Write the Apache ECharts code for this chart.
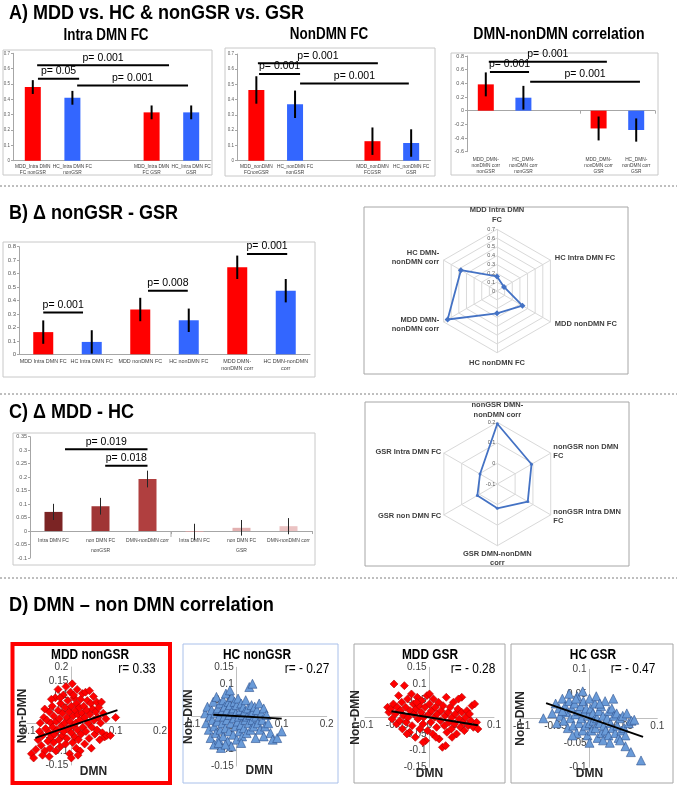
<!DOCTYPE html>
<html><head><meta charset="utf-8">
<script src="https://cdn.jsdelivr.net/npm/echarts@6/dist/echarts.min.js"></script>
<style>html,body{margin:0;padding:0;background:#fff}#c{width:677px;height:786px}</style>
</head><body><div id="c"></div>
<script>
// ================= DATA =================
// Panel A
const aIntraCats = ['MDD_Intra DMN\nFC nonGSR','HC_Intra DMN FC\nnonGSR','','MDD_Intra DMN\nFC GSR','HC_Intra DMN FC\nGSR'];
const aIntraVals = [0.48, 0.41, null, 0.315, 0.315];
const aIntraErr  = [0.045, 0.045, null, 0.045, 0.045];
const aIntraSig  = [[0.11, 3.44, 0.622], [0.13, 1.17, 0.534], [1.12, 3.92, 0.49]];
const aIntraSigText = ['p= 0.001', 'p= 0.05', 'p= 0.001'];

const aNonCats = ['MDD_nonDMN\nFCnonGSR','HC_nonDMN FC\nnonGSR','','MDD_nonDMN\nFCGSR','HC_nonDMN FC\nGSR'];
const aNonVals = [0.464, 0.37, null, 0.128, 0.116];
const aNonErr  = [0.09, 0.09, null, 0.09, 0.09];
const aNonSig  = [[0.04, 3.14, 0.639], [0.07, 1.13, 0.569], [1.13, 3.94, 0.507]];
const aNonSigText = ['p= 0.001', 'p= 0.001', 'p= 0.001'];

const aCorrCats = ['MDD_DMN-\nnonDMN corr\nnonGSR','HC_DMN-\nnonDMN corr\nnonGSR','','MDD_DMN-\nnonDMN corr\nGSR','HC_DMN-\nnonDMN corr\nGSR'];
const aCorrVals = [0.385, 0.19, null, -0.26, -0.283];
const aCorrErr  = [0.175, 0.173, null, 0.175, 0.17];
const aCorrSig  = [[0.08, 3.22, 0.717], [0.11, 1.15, 0.566], [1.18, 4.1, 0.424]];
const aCorrSigText = ['p= 0.001', 'p= 0.001', 'p= 0.001'];

// Panel B
const bCats = ['MDD Intra DMN FC','HC Intra DMN FC','MDD nonDMN FC','HC nonDMN FC','MDD DMN-\nnonDMN corr','HC DMN-nonDMN\ncorr'];
const bVals = [0.165, 0.092, 0.333, 0.253, 0.647, 0.473];
const bErr  = [0.087, 0.087, 0.087, 0.087, 0.087, 0.087];
const bSig  = [[0.0, 0.82, 0.31], [2.16, 2.98, 0.473], [4.2, 5.03, 0.745]];
const bSigText = ['p= 0.001', 'p= 0.008', 'p= 0.001'];
const bRadarNames = ['MDD Intra DMN\nFC','HC Intra DMN FC','MDD nonDMN FC','HC nonDMN FC','MDD DMN-\nnonDMN corr','HC DMN-\nnonDMN corr'];
const bRadarTicks = [0, 0.7];

// Panel C
const cCats   = ['Intra DMN FC','non DMN FC','DMN-nonDMN corr','Intra DMN FC','non DMN FC','DMN-nonDMN corr'];
const cGroups = ['nonGSR','GSR'];
const cVals   = [0.071, 0.092, 0.193, -0.003, 0.012, 0.018];
const cErr    = [0.03, 0.031, 0.031, 0.03, 0.029, 0.03];
const cSig    = [[0.245, 2.0, 0.303], [1.1, 2.0, 0.242]];
const cSigText = ['p= 0.019', 'p= 0.018'];
// radar, clockwise from top (values taken from cVals by index)
const cRadarNames = ['nonGSR DMN-\nnonDMN corr','nonGSR non DMN\nFC','nonGSR Intra DMN\nFC','GSR DMN-nonDMN\ncorr','GSR non DMN FC','GSR Intra DMN FC'];
const cRadarIdx   = [2, 1, 0, 5, 4, 3];
const cRadarTicks = [-0.1, 0.2];

// Panel D scatter data [DMN, Non-DMN]
const mddNonGsrPts = [[-0.09,-0.11],[-0.085,-0.125],[-0.08,-0.095],[-0.075,-0.06],[-0.072,-0.03],[-0.07,0.0],[-0.068,-0.08],[-0.065,-0.045],[-0.062,0.02],[-0.06,-0.1],[-0.058,-0.02],[-0.055,0.01],[-0.053,-0.065],[-0.05,0.04],[-0.05,-0.035],[-0.048,-0.09],[-0.046,0.0],[-0.045,-0.05],[-0.043,0.06],[-0.042,-0.015],[-0.04,-0.07],[-0.04,0.025],[-0.038,-0.04],[-0.036,0.09],[-0.035,-0.1],[-0.034,0.005],[-0.032,-0.025],[-0.03,0.12],[-0.03,0.045],[-0.028,-0.06],[-0.027,0.015],[-0.025,-0.085],[-0.024,0.07],[-0.022,-0.01],[-0.02,0.035],[-0.02,-0.045],[-0.018,0.1],[-0.017,-0.03],[-0.015,0.0],[-0.014,0.055],[-0.013,-0.075],[-0.012,0.13],[-0.01,0.02],[-0.01,-0.055],[-0.008,0.08],[-0.007,-0.02],[-0.005,0.04],[-0.004,-0.11],[-0.003,0.005],[-0.002,0.11],[0.0,-0.035],[0.0,0.06],[0.002,0.14],[0.003,-0.07],[0.004,0.025],[0.005,-0.01],[0.006,0.09],[0.008,-0.05],[0.009,0.045],[0.01,0.0],[0.011,-0.09],[0.012,0.07],[0.013,0.12],[0.014,-0.025],[0.015,0.03],[0.016,-0.06],[0.018,0.055],[0.019,0.01],[0.02,-0.1],[0.021,0.085],[0.022,-0.04],[0.024,0.035],[0.025,0.105],[0.026,-0.015],[0.028,0.06],[0.03,-0.075],[0.03,0.02],[0.032,0.11],[0.033,-0.03],[0.035,0.045],[0.036,0.08],[0.038,0.0],[0.04,-0.055],[0.041,0.115],[0.042,0.03],[0.044,0.07],[0.045,-0.09],[0.046,-0.015],[0.048,0.05],[0.05,0.095],[0.051,0.01],[0.053,-0.04],[0.055,0.04],[0.057,0.075],[0.058,-0.025],[0.06,0.02],[0.062,0.055],[0.064,-0.06],[0.066,0.0],[0.068,0.075],[0.07,-0.035],[0.072,0.035],[0.075,-0.05],[0.078,0.015],[0.08,-0.045],[0.088,-0.045],[0.1,0.02],[-0.05,-0.12],[-0.06,0.05],[-0.045,0.085],[0.0,-0.125],[0.015,-0.115],[-0.025,0.09],[0.005,0.1],[-0.065,-0.115]];
const mddNonGsrTrend = [[-0.081,-0.053],[0.104,0.046]];

const hcNonGsrPts = [[-0.07,0.01],[-0.068,-0.02],[-0.065,0.03],[-0.062,-0.04],[-0.06,0.0],[-0.058,-0.065],[-0.056,0.02],[-0.054,-0.01],[-0.052,0.045],[-0.05,-0.03],[-0.05,-0.085],[-0.048,0.01],[-0.046,-0.05],[-0.045,0.06],[-0.043,-0.015],[-0.042,0.025],[-0.04,-0.07],[-0.039,0.0],[-0.037,0.04],[-0.036,-0.04],[-0.035,-0.095],[-0.033,0.015],[-0.032,-0.02],[-0.03,0.05],[-0.03,-0.06],[-0.028,0.0],[-0.027,0.03],[-0.025,-0.035],[-0.024,0.07],[-0.022,-0.01],[-0.021,0.02],[-0.02,-0.075],[-0.018,0.045],[-0.017,-0.045],[-0.016,0.005],[-0.015,0.035],[-0.013,-0.02],[-0.012,-0.09],[-0.011,0.06],[-0.01,0.015],[-0.008,-0.055],[-0.007,0.025],[-0.006,-0.005],[-0.005,0.045],[-0.003,-0.03],[-0.002,0.01],[0.0,-0.07],[0.0,0.035],[0.002,-0.015],[0.003,0.055],[0.005,0.0],[0.006,-0.045],[0.008,0.02],[0.009,-0.025],[0.01,0.04],[0.012,-0.06],[0.013,0.005],[0.015,0.03],[0.016,-0.035],[0.018,0.015],[0.019,-0.01],[0.02,0.05],[0.022,-0.05],[0.023,0.0],[0.025,0.025],[0.027,-0.02],[0.028,0.09],[0.03,0.005],[0.031,-0.04],[0.033,0.035],[0.035,-0.01],[0.036,0.015],[0.038,-0.03],[0.04,0.03],[0.042,-0.065],[0.043,0.0],[0.045,0.02],[0.047,-0.02],[0.05,0.04],[0.052,-0.04],[0.055,0.01],[0.057,-0.01],[0.06,0.025],[0.063,-0.03],[0.066,0.005],[0.07,-0.02],[0.075,-0.05],[0.08,-0.07],[0.09,-0.065],[0.1,-0.045],[0.035,0.1],[-0.015,0.08],[-0.04,-0.08],[0.06,-0.06],[-0.025,-0.085],[0.01,-0.08]];
const hcNonGsrTrend = [[-0.052,0.006],[0.1,-0.006]];

const mddGsrPts = [[-0.065,0.03],[-0.063,0.015],[-0.06,0.025],[-0.058,-0.005],[-0.056,0.04],[-0.055,0.1],[-0.053,0.01],[-0.051,-0.02],[-0.05,0.03],[-0.048,0.065],[-0.046,-0.01],[-0.045,0.02],[-0.043,0.045],[-0.042,-0.035],[-0.04,0.005],[-0.039,0.095],[-0.037,0.03],[-0.036,-0.015],[-0.034,0.055],[-0.033,0.0],[-0.031,-0.045],[-0.03,0.02],[-0.028,0.07],[-0.027,-0.025],[-0.025,0.04],[-0.024,0.01],[-0.022,-0.06],[-0.021,0.025],[-0.019,0.06],[-0.018,-0.005],[-0.016,0.035],[-0.015,-0.035],[-0.013,0.015],[-0.012,0.05],[-0.01,-0.02],[-0.009,0.0],[-0.007,0.03],[-0.006,-0.07],[-0.004,0.065],[-0.003,-0.04],[-0.001,0.01],[0.0,0.04],[0.002,-0.015],[0.003,0.02],[0.005,-0.05],[0.006,0.055],[0.008,0.0],[0.009,0.03],[0.011,-0.03],[0.012,0.01],[0.014,0.045],[0.015,-0.065],[0.017,-0.01],[0.018,0.02],[0.02,-0.09],[0.021,0.035],[0.023,-0.025],[0.024,0.005],[0.026,0.06],[0.027,-0.045],[0.029,0.015],[0.03,-0.015],[0.032,0.03],[0.034,-0.035],[0.035,0.0],[0.037,0.045],[0.039,-0.02],[0.04,0.01],[0.042,-0.05],[0.044,0.025],[0.046,-0.005],[0.048,-0.03],[0.05,0.015],[0.052,-0.015],[0.054,-0.04],[0.056,0.0],[0.058,0.02],[0.06,-0.025],[0.062,0.01],[0.064,-0.01],[0.066,0.035],[0.068,-0.03],[0.07,0.04],[0.073,-0.015],[0.075,-0.035],[0.05,0.06],[0.045,0.055],[0.025,-0.085],[-0.01,-0.075],[0.01,-0.06],[-0.035,-0.05],[0.035,-0.06],[-0.02,0.045],[0.0,0.07]];
const mddGsrTrend = [[-0.059,0.018],[0.075,-0.024]];

const hcGsrPts = [[-0.068,0.0],[-0.055,0.01],[-0.05,0.03],[-0.048,-0.01],[-0.045,0.02],[-0.043,0.005],[-0.04,0.04],[-0.038,-0.005],[-0.036,0.025],[-0.034,0.012],[-0.032,-0.02],[-0.03,0.035],[-0.03,0.05],[-0.028,0.0],[-0.026,0.02],[-0.024,-0.015],[-0.022,0.03],[-0.021,0.008],[-0.019,-0.03],[-0.018,0.045],[-0.016,0.015],[-0.015,-0.01],[-0.013,0.025],[-0.012,0.0],[-0.01,-0.025],[-0.009,0.035],[-0.008,0.012],[-0.006,-0.015],[-0.005,0.02],[-0.003,-0.035],[-0.002,0.005],[0.0,0.04],[0.0,-0.01],[0.002,0.02],[0.003,-0.025],[0.005,0.01],[0.006,-0.005],[0.008,0.03],[0.009,-0.02],[0.011,0.0],[0.012,-0.04],[0.014,0.015],[0.015,-0.01],[0.017,0.025],[0.018,-0.03],[0.02,0.005],[0.021,-0.015],[0.023,0.035],[0.024,-0.025],[0.026,0.0],[0.028,-0.035],[0.029,0.015],[0.031,-0.01],[0.033,0.02],[0.034,-0.02],[0.036,0.005],[0.038,-0.03],[0.04,0.01],[0.041,-0.015],[0.043,-0.04],[0.045,0.0],[0.047,-0.025],[0.049,0.005],[0.051,-0.02],[0.053,-0.035],[0.055,0.01],[0.058,-0.01],[0.062,-0.005],[0.066,-0.003],[0.053,-0.057],[0.061,-0.069],[0.076,-0.086],[0.045,-0.045],[0.02,-0.045],[-0.01,0.055],[0.01,0.045],[0.035,0.04],[0.03,-0.05],[-0.025,-0.035],[-0.04,0.015],[0.0,-0.05],[0.015,0.03],[-0.02,0.04]];
const hcGsrTrend = [[-0.064,0.031],[0.079,-0.038]];

// ================= STYLE =================
const FA = '"Liberation Sans",Arial,sans-serif';
const RED = '#FF0000', BLUE = '#3366FF';
const fmt2 = v => String(Math.round(v * 100) / 100);

const grid = [], xAxis = [], yAxis = [], series = [], graphic = [];

function errRender(lw, col) {
  return function (params, api) {
    const x = api.value(0), lo = api.value(1), hi = api.value(2);
    const p1 = api.coord([x, hi]), p2 = api.coord([x, lo]);
    return {type: 'line', shape: {x1: p1[0], y1: p1[1], x2: p2[0], y2: p2[1]}, style: {stroke: col, lineWidth: lw}};
  };
}
function sigRender(texts, fs) {
  return function (params, api) {
    const a = api.coord([api.value(0), api.value(2)]), b = api.coord([api.value(1), api.value(2)]);
    return {type: 'group', children: [
      {type: 'line', shape: {x1: a[0], y1: a[1], x2: b[0], y2: b[1]}, style: {stroke: '#000', lineWidth: 2}},
      {type: 'text', x: (a[0] + b[0]) / 2, y: a[1] - 2, style: {text: texts[params.dataIndex], align: 'center', verticalAlign: 'bottom', fontSize: fs, fontFamily: FA, fill: '#000'}}
    ]};
  };
}

function barPanel(c) {
  const gi = grid.length;
  grid.push({left: c.left, top: c.top, width: c.width, height: c.height, outerBoundsMode: 'none'});
  const yi = yAxis.length;
  yAxis.push({type: 'value', gridIndex: gi, min: c.min, max: c.max, interval: c.interval,
    axisLine: {show: true, onZero: false, lineStyle: {color: '#a6a6a6'}}, axisTick: {show: true, length: 2, lineStyle: {color: '#a6a6a6'}},
    splitLine: {show: false},
    axisLabel: {fontSize: c.yFont, color: '#595959', fontFamily: FA, margin: 3, formatter: fmt2}});
  const xi = xAxis.length;
  xAxis.push({type: 'category', gridIndex: gi, data: c.cats, position: 'bottom',
    axisLine: {show: c.mainLine, onZero: false, lineStyle: {color: '#a6a6a6'}},
    axisTick: {show: false},
    axisLabel: {interval: 0, fontSize: c.catFont, color: '#404040', fontFamily: FA, lineHeight: c.catLH, margin: c.catMargin, formatter: c.fmt}});
  const xv = xAxis.length;
  xAxis.push({type: 'value', gridIndex: gi, min: -0.5, max: c.cats.length - 0.5, show: false, axisLine: {onZero: false}});
  if (c.zeroAxis) {
    xAxis.push({type: 'category', gridIndex: gi, data: c.cats, position: 'bottom',
      axisLine: {show: true, onZero: true, onZeroAxisIndex: yi, lineStyle: {color: '#a6a6a6'}},
      axisTick: {show: true, length: 3, lineStyle: {color: '#a6a6a6'}}, axisLabel: {show: false}});
  }
  series.push({type: 'bar', xAxisIndex: xi, yAxisIndex: yi, barWidth: c.barWidth,
    data: c.vals.map((v, i) => v == null ? '-' : {value: v, itemStyle: {color: c.colors[i]}})});
  series.push({type: 'custom', xAxisIndex: xi, yAxisIndex: yi, renderItem: errRender(c.errW, c.errCol), z: 4,
    encode: {x: 0, y: [1, 2]},
    data: c.vals.map((v, i) => v == null ? null : [i, v - c.err[i], v + c.err[i]]).filter(d => d)});
  series.push({type: 'custom', xAxisIndex: xv, yAxisIndex: yi, renderItem: sigRender(c.sigText, c.sigFont), z: 5,
    encode: {x: [0, 1], y: 2}, data: c.sig});
  if (c.extra) c.extra(xv, yi);
}

// ---- Panel A ----
const aCol = [RED, BLUE, RED, RED, BLUE];
barPanel({left: 13, top: 53.3, width: 198, height: 107.4, cats: aIntraCats, vals: aIntraVals, err: aIntraErr,
  sig: aIntraSig, sigText: aIntraSigText, sigFont: 10.5, min: 0, max: 0.7, interval: 0.1, colors: aCol,
  barWidth: 16, catFont: 4.8, catLH: 6, catMargin: 3, yFont: 4.5, errW: 2, errCol: '#000', mainLine: true});
barPanel({left: 237, top: 54, width: 193.5, height: 106.7, cats: aNonCats, vals: aNonVals, err: aNonErr,
  sig: aNonSig, sigText: aNonSigText, sigFont: 10.5, min: 0, max: 0.7, interval: 0.1, colors: aCol,
  barWidth: 16, catFont: 4.8, catLH: 6, catMargin: 3, yFont: 4.5, errW: 2, errCol: '#000', mainLine: true});
barPanel({left: 467, top: 56, width: 188, height: 95.7, cats: aCorrCats, vals: aCorrVals, err: aCorrErr,
  sig: aCorrSig, sigText: aCorrSigText, sigFont: 10.5, min: -0.6, max: 0.8, interval: 0.2, colors: aCol,
  barWidth: 16, catFont: 4.8, catLH: 6, catMargin: 5, yFont: 5.5, errW: 2, errCol: '#000', mainLine: false, zeroAxis: true});

// ---- Panel B ----
barPanel({left: 19, top: 246.7, width: 291, height: 107.6, cats: bCats, vals: bVals, err: bErr,
  sig: bSig, sigText: bSigText, sigFont: 10.5, min: 0, max: 0.8, interval: 0.1,
  colors: [RED, BLUE, RED, BLUE, RED, BLUE],
  barWidth: 20, catFont: 5.4, catLH: 6.5, catMargin: 4, yFont: 6, errW: 2, errCol: '#000', mainLine: true});

// ---- Panel C ----
barPanel({left: 30, top: 436.7, width: 282, height: 121.3, cats: cCats, vals: cVals, err: cErr,
  sig: cSig, sigText: cSigText, sigFont: 10.5, min: -0.1, max: 0.35, interval: 0.05,
  colors: ['#7B2424', '#A03535', '#B03F3F', '#D9A3A3', '#E2B0B0', '#EBC3C3'],
  barWidth: 18, catFont: 5, catLH: 10, catMargin: -22, yFont: 5.5, errW: 1, errCol: '#262626', mainLine: false, zeroAxis: true,
  fmt: (v, i) => i === 1 ? v + '\n' + cGroups[0] : (i === 4 ? v + '\n' + cGroups[1] : v),
  extra: (xv, yi) => series.push({type: 'custom', xAxisIndex: xv, yAxisIndex: yi, encode: {x: 0, y: [1, 2]},
    data: [[2.5, 0, -0.022]], renderItem: (p, api) => {
      const a = api.coord([api.value(0), api.value(1)]), b = api.coord([api.value(0), api.value(2)]);
      return {type: 'line', shape: {x1: a[0], y1: a[1], x2: b[0], y2: b[1]}, style: {stroke: '#a6a6a6', lineWidth: 1}};
    }})});

// ---- Radars ----
const radarCommon = {
  shape: 'polygon', startAngle: 90,
  axisName: {color: '#404040', fontSize: 7.5, fontWeight: 'bold', fontFamily: FA, lineHeight: 9.5},
  splitLine: {lineStyle: {color: '#d9d9d9', width: 1}}, splitArea: {show: false},
  axisLine: {lineStyle: {color: '#d9d9d9'}}, axisTick: {show: false}, axisLabel: {show: false}
};
// ECharts lays indicators counter-clockwise; reference is clockwise -> reorder
const ccw = [0, 5, 4, 3, 2, 1];
const labelOn = {show: true, fontSize: 5.5, color: '#595959', fontFamily: FA, margin: 2, formatter: fmt2};
const radar = [
  Object.assign({}, radarCommon, {center: [497, 291], radius: 61.7, splitNumber: 7, nameGap: 5,
    indicator: ccw.map((k, j) => Object.assign({name: bRadarNames[k], min: bRadarTicks[0], max: bRadarTicks[1]}, j === 0 ? {axisLabel: labelOn} : {}))}),
  Object.assign({}, radarCommon, {center: [497.3, 484], radius: 61.7, splitNumber: 3, nameGap: 3,
    indicator: ccw.map((k, j) => Object.assign({name: cRadarNames[k], min: cRadarTicks[0], max: cRadarTicks[1]}, j === 0 ? {axisLabel: labelOn} : {}))})
];
series.push({type: 'radar', radarIndex: 0, symbol: 'diamond', symbolSize: 6,
  lineStyle: {color: '#4472C4', width: 1.8}, itemStyle: {color: '#4472C4'},
  data: [{value: ccw.map(k => bVals[k])}]});
series.push({type: 'radar', radarIndex: 1, symbol: 'circle', symbolSize: 3,
  lineStyle: {color: '#4472C4', width: 1.8}, itemStyle: {color: '#4472C4'},
  data: [{value: ccw.map(k => cVals[cRadarIdx[k]])}]});

// ---- Panel D scatters (axes cross at the origin) ----
function scatterPanel(c) {
  const gi = grid.length;
  grid.push({left: c.left, top: c.top, width: c.width, height: c.height, outerBoundsMode: 'none'});
  const ax = {axisTick: {show: false}, splitLine: {show: false},
    axisLabel: {fontSize: 10, color: '#404040', fontFamily: FA, margin: 3}};
  const xi = xAxis.length, yi = yAxis.length;
  // shift each axis line from the grid edge to the other axis's zero
  const xOff = -c.height * (0 - c.yr[0]) / (c.yr[1] - c.yr[0]);
  const yOff = -c.width * (0 - c.xr[0]) / (c.xr[1] - c.xr[0]);
  xAxis.push(Object.assign({type: 'value', gridIndex: gi, position: 'bottom', offset: xOff, min: c.xr[0], max: c.xr[1], interval: c.xr[2],
    axisLine: {onZero: false, lineStyle: {color: '#bfbfbf'}},
    name: 'DMN', nameLocation: 'middle', nameGap: c.xGap,
    nameTextStyle: {fontWeight: 'bold', fontSize: 12, color: '#262626', fontFamily: FA}}, ax));
  yAxis.push(Object.assign({type: 'value', gridIndex: gi, position: 'left', offset: yOff, min: c.yr[0], max: c.yr[1], interval: c.yr[2],
    axisLine: {onZero: false, lineStyle: {color: '#bfbfbf'}},
    name: 'Non-DMN', nameLocation: 'middle', nameGap: c.yGap,
    nameTextStyle: {fontWeight: 'bold', fontSize: 12, color: '#262626', fontFamily: FA}}, ax));
  series.push({type: 'scatter', xAxisIndex: xi, yAxisIndex: yi, data: c.pts, symbol: c.symbol, symbolSize: c.size,
    itemStyle: {color: c.fill, borderColor: c.stroke, borderWidth: 0.6, opacity: 1}, z: 3});
  series.push({type: 'line', xAxisIndex: xi, yAxisIndex: yi, data: c.trend, symbol: 'none',
    lineStyle: {color: '#000', width: 2}, z: 6});
}
scatterPanel({left: 27, top: 667, width: 133, height: 98, xr: [-0.1, 0.2, 0.1], yr: [-0.15, 0.2, 0.05],
  pts: mddNonGsrPts, trend: mddNonGsrTrend, symbol: 'diamond', size: 8, fill: RED, stroke: '#B00000', xGap: 43, yGap: 43});
scatterPanel({left: 191.7, top: 667.3, width: 135, height: 98.7, xr: [-0.1, 0.2, 0.1], yr: [-0.15, 0.15, 0.05],
  pts: hcNonGsrPts, trend: hcNonGsrTrend, symbol: 'triangle', size: 9, fill: '#6A9BD8', stroke: '#2F528F', xGap: 48, yGap: 42});
scatterPanel({left: 365, top: 667.3, width: 129, height: 100, xr: [-0.1, 0.1, 0.05], yr: [-0.15, 0.15, 0.05],
  pts: mddGsrPts, trend: mddGsrTrend, symbol: 'diamond', size: 8, fill: RED, stroke: '#B00000', xGap: 50, yGap: 68});
scatterPanel({left: 521.7, top: 669.3, width: 135.6, height: 98, xr: [-0.1, 0.1, 0.05], yr: [-0.1, 0.1, 0.05],
  pts: hcGsrPts, trend: hcGsrTrend, symbol: 'triangle', size: 9, fill: '#6A9BD8', stroke: '#2F528F', xGap: 49, yGap: 63});

// ---- Decorations ----
function rect(x1, y1, x2, y2, col, w) {
  graphic.push({type: 'rect', shape: {x: x1, y: y1, width: x2 - x1, height: y2 - y1}, style: {fill: 'none', stroke: col, lineWidth: w}, z: -1});
}
function dash(y) {
  graphic.push({type: 'line', shape: {x1: 0, y1: y, x2: 677, y2: y}, style: {stroke: '#7f7f7f', lineWidth: 1, lineDash: [2, 2]}});
}
function txt(s, x, y, size, bold, align, sx) {
  graphic.push({type: 'text', x: x, y: y, scaleX: sx || 1, style: {text: s, fontSize: size, fontWeight: bold ? 'bold' : 'normal',
    fontFamily: FA, fill: '#000', align: align || 'center', verticalAlign: 'middle'}, z: 10});
}
rect(3, 50, 212, 175, '#c8c8c8', 1);
rect(225, 48, 435, 176, '#c8c8c8', 1);
rect(451, 53, 658, 175, '#c8c8c8', 1);
rect(3, 242, 315, 377, '#c8c8c8', 1);
rect(364, 207, 628, 374, '#a6a6a6', 1);
rect(13, 433, 315, 565, '#c8c8c8', 1);
rect(365, 402, 629, 566, '#a6a6a6', 1);
rect(12.5, 644, 170, 783, '#FF0000', 4);
rect(183, 644, 338, 783, '#a9c0ea', 1);
rect(354, 644, 505, 783, '#a6a6a6', 1);
rect(511, 644, 673, 783, '#a6a6a6', 1);
dash(186); dash(394); dash(578);

txt('A) MDD vs. HC & nonGSR vs. GSR', 9, 13, 20, true, 'left', 0.9);
txt('Intra DMN FC', 106, 36, 16, true, 'center', 0.84);
txt('NonDMN FC', 329, 35, 16, true, 'center', 0.84);
txt('DMN-nonDMN correlation', 559, 35, 16, true, 'center', 0.88);
txt('B) Δ nonGSR - GSR', 9, 213, 20, true, 'left', 0.9);
txt('C) Δ MDD - HC', 9, 412, 20, true, 'left', 0.9);
txt('D) DMN – non DMN correlation', 9, 605, 20, true, 'left', 0.91);
txt('MDD nonGSR', 90, 655, 14, true, 'center', 0.85);
txt('HC nonGSR', 257, 655, 14, true, 'center', 0.85);
txt('MDD GSR', 430, 655, 14, true, 'center', 0.85);
txt('HC GSR', 593, 655, 14, true, 'center', 0.85);
txt('r= 0.33', 137, 669, 14, false, 'center', 0.85);
txt('r= - 0.27', 307, 669, 14, false, 'center', 0.85);
txt('r= - 0.28', 473, 669, 14, false, 'center', 0.85);
txt('r= - 0.47', 633, 669, 14, false, 'center', 0.85);

const chart = echarts.init(document.getElementById('c'), null, {renderer: 'canvas'});
chart.setOption({animation: false, backgroundColor: '#fff', grid, xAxis, yAxis, radar, series, graphic});
</script></body></html>
